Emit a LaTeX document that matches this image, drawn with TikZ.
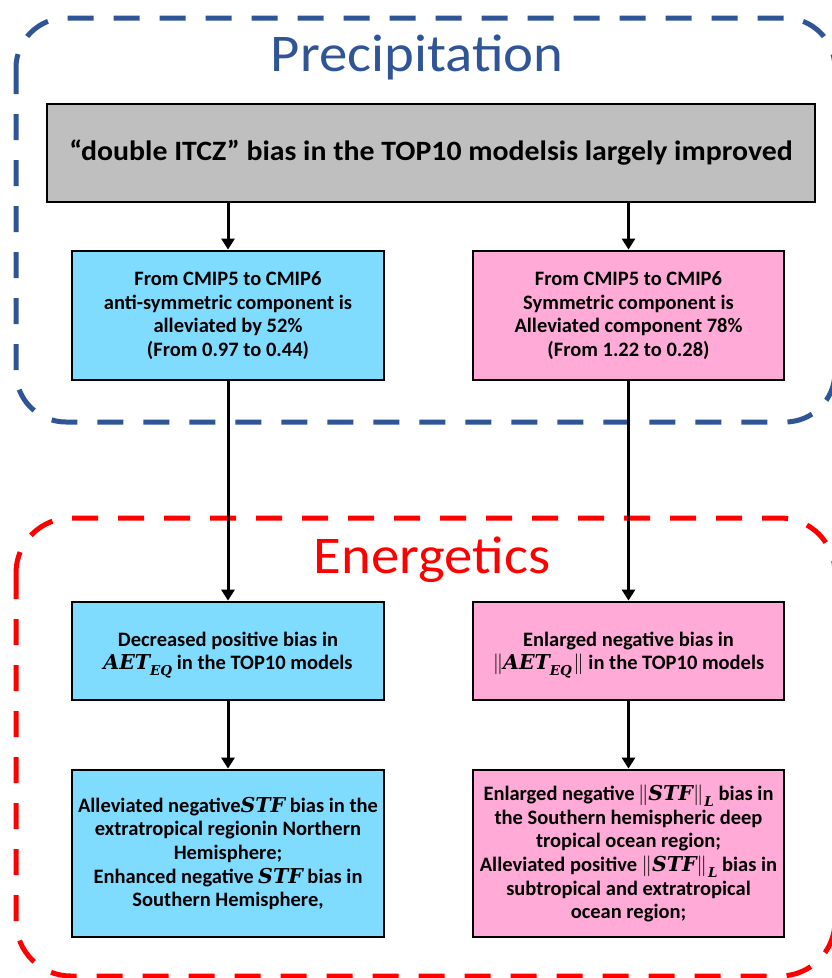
\documentclass[tikz,border=0pt]{standalone}
\usepackage{fontspec}
\setmainfont{Carlito}
\newfontfamily\boxfont{Carlito}
\newfontfamily\grayfont[FakeStretch=1.065]{Carlito}
\newfontfamily\titlefont[FakeStretch=1.07]{Carlito}
\newfontfamily\mfont{DejaVu Serif}
\newcommand\mv[1]{{\mfont\bfseries\itshape #1}}
\newcommand\msub[1]{\raisebox{-0.28em}[0pt][0pt]{\fontsize{13.5}{13.5}\selectfont\mfont\bfseries\itshape #1}}
\newcommand\bnrm[1]{\smash{$\big\|$}#1\kern1.5pt\smash{$\big\|$}}
\newcommand\nrm[1]{$\|$#1$\|$\kern1pt}
\usetikzlibrary{arrows.meta}
\definecolor{frameblue}{RGB}{47,85,151}
\definecolor{framered}{RGB}{255,0,0}
\definecolor{boxgray}{RGB}{191,191,191}
\definecolor{boxcyan}{RGB}{128,220,255}
\definecolor{boxpink}{RGB}{255,170,215}
\tikzset{
  frame/.style={line width=5pt, dash pattern=on 26pt off 20pt, rounded corners=50pt},
  basebox/.style={draw=black, line width=2.8pt, align=center, inner sep=0pt,
    font=\boxfont\fontsize{20.5}{23.7}\selectfont\bfseries},
  cbox/.style={basebox, fill=boxcyan, minimum width=312pt},
  pbox/.style={basebox, fill=boxpink, minimum width=311pt},
  gbox/.style={basebox, fill=boxgray, minimum width=768pt, minimum height=98pt,
    font=\grayfont\fontsize{28}{32}\selectfont\bfseries},
  arr/.style={line width=3pt, -{Triangle[width=13pt,length=11pt]}},
  title/.style={font=\titlefont\fontsize{53}{60}\selectfont, inner sep=0pt, anchor=base}
}
\begin{document}
\begin{tikzpicture}[x=1pt,y=-1pt]
\clip (0,0) rectangle (832,978);
\fill[white] (0,0) rectangle (832,978);
% frames
\draw[frame, frameblue] (16,18) rectangle (835,422);
\draw[frame, framered, rounded corners=55pt] (16,518) rectangle (835,976);
% titles
\node[title, text=frameblue] (tp) at (417,71) {Precipitation};
\node[title, text=framered] (te) at (432,573) {Energetics};
% boxes
\node[gbox] (g) at (431,153) {“double ITCZ” bias in the TOP10 modelsis largely improved};
\node[cbox, minimum height=129pt] (c1) at (228,315.5) {From CMIP5 to CMIP6\\anti-symmetric component is\\alleviated by 52\%\\(From 0.97 to 0.44)};
\node[pbox, minimum height=129pt] (p1) at (628.5,315.5) {From CMIP5 to CMIP6\\Symmetric component is\\Alleviated component 78\%\\(From 1.22 to 0.28)};
\node[cbox, minimum height=98pt] (c2) at (228,651) {Decreased positive bias in\\\mv{AET}\msub{EQ} in the TOP10 models};
\node[pbox, minimum height=98pt] (p2) at (628.5,651) {Enlarged negative bias in\\\bnrm{\mv{AET}\msub{EQ}} in the TOP10 models};
\node[cbox, minimum height=167pt] (c3) at (228,853.5) {Alleviated negative\mv{STF} bias in the\\extratropical regionin Northern\\Hemisphere;\\Enhanced negative \mv{STF} bias in\\Southern Hemisphere,};
\node[pbox, minimum height=167pt] (p3) at (628.5,853.5) {Enlarged negative\,\nrm{\mv{STF}}\msub{L} bias in\\the Southern hemispheric deep\\tropical ocean region;\\Alleviated positive \nrm{\mv{STF}}\msub{L} bias in\\subtropical and extratropical\\ocean region;};
% arrows
\draw[arr] (g.south -| c1.north) -- (c1.north);
\draw[arr] (g.south -| p1.north) -- (p1.north);
\draw[arr] (c1.south) -- (c2.north);
\draw[arr] (p1.south) -- (p2.north);
\draw[arr] (c2.south) -- (c3.north);
\draw[arr] (p2.south) -- (p3.north);
\end{tikzpicture}
\end{document}
